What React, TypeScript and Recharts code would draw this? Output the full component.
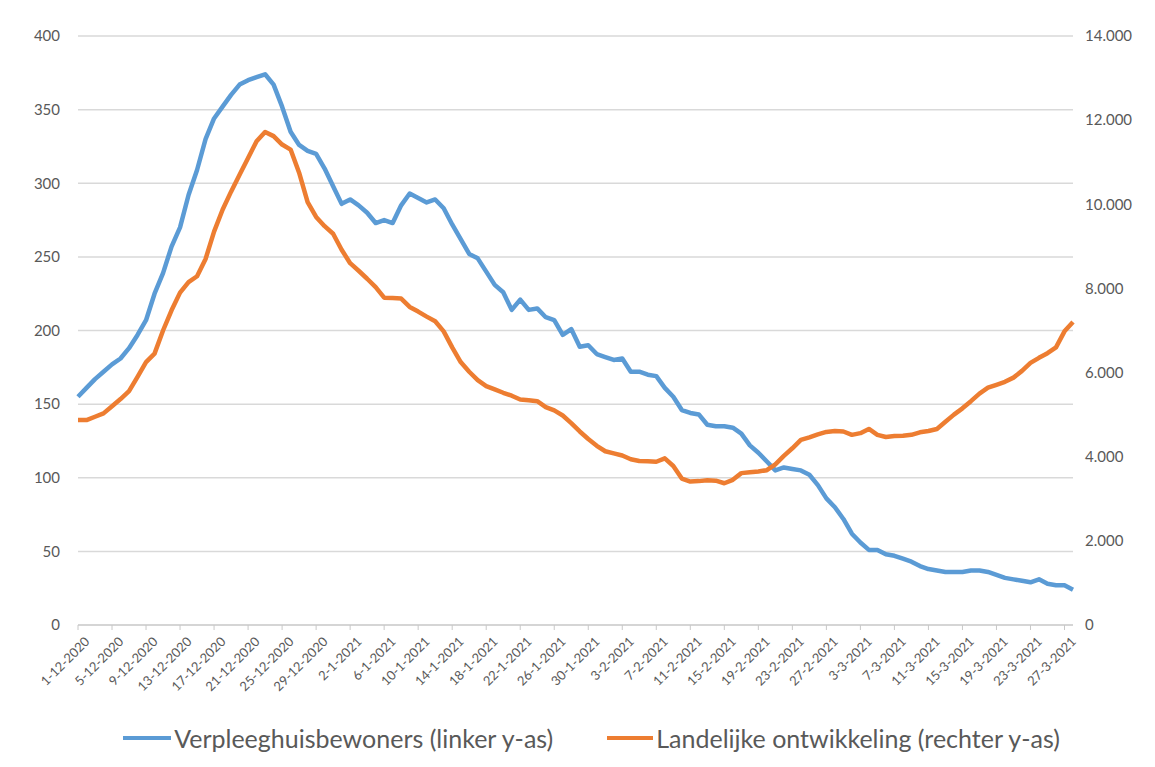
import React from "react";
import { LineChart, Line, XAxis, YAxis, CartesianGrid, Legend } from "recharts";

// dagelijkse reeks 1-12-2020 t/m 28-3-2021
const START_DATE = Date.UTC(2020, 11, 1);
const DAY_COUNT = 118;
const dates = Array.from({ length: DAY_COUNT }, (_, i) => {
  const d = new Date(START_DATE + i * 86400000);
  return `${d.getUTCDate()}-${d.getUTCMonth() + 1}-${d.getUTCFullYear()}`;
});

// Verpleeghuisbewoners (linker y-as)
const verpleeghuis = [
  155, 161, 167, 172, 177, 181, 188, 197, 207, 225,
  239, 257, 270, 292, 309, 330, 344, 352, 360, 367,
  370, 372, 374, 367, 352, 335, 326, 322, 320, 310,
  298, 286, 289, 285, 280, 273, 275, 273, 285, 293,
  290, 287, 289, 283, 272, 262, 252, 249, 240, 231,
  226, 214, 221, 214, 215, 209, 207, 197, 201, 189,
  190, 184, 182, 180, 181, 172, 172, 170, 169, 161,
  155, 146, 144, 143, 136, 135, 135, 134, 130, 122,
  117, 111, 105, 107, 106, 105, 102, 95, 86, 80,
  72, 62, 56, 51, 51, 48, 47, 45, 43, 40,
  38, 37, 36, 36, 36, 37, 37, 36, 34, 32,
  31, 30, 29, 31, 28, 27, 27, 24,
];

// Landelijke ontwikkeling (rechter y-as)
const landelijk = [
  4870, 4870, 4950, 5030, 5200, 5370, 5560, 5900, 6250, 6450,
  7000, 7480, 7900, 8150, 8290, 8700, 9350, 9870, 10300, 10700,
  11100, 11500, 11720, 11620, 11420, 11300, 10750, 10050, 9700, 9480,
  9300, 8920, 8600, 8420, 8230, 8030, 7780, 7770, 7760, 7560,
  7450, 7330, 7220, 6980, 6600, 6250, 6020, 5820, 5680, 5600,
  5520, 5450, 5360, 5340, 5320, 5180, 5100, 4980, 4800, 4600,
  4420, 4260, 4130, 4080, 4030, 3940, 3900, 3890, 3880, 3960,
  3780, 3480, 3410, 3420, 3440, 3430, 3370, 3450, 3610, 3630,
  3650, 3680, 3820, 4020, 4200, 4400, 4460, 4530, 4590, 4610,
  4600, 4520, 4560, 4660, 4520, 4470, 4490, 4500, 4520, 4580,
  4610, 4660, 4830, 5000, 5150, 5320, 5500, 5640, 5710, 5780,
  5880, 6040, 6230, 6350, 6460, 6600, 6980, 7200,
];

const leftTicks = [0, 50, 100, 150, 200, 250, 300, 350, 400];
const rightTicks = [0, 2000, 4000, 6000, 8000, 10000, 12000, 14000];

const BLUE = "#5B9BD5";
const ORANGE = "#ED7D31";
const TEXT = "#595959";
const FONT = "Lato, 'Liberation Sans', sans-serif";

const data = dates.map((date, i) => ({
  date,
  verpleeghuis: verpleeghuis[i],
  landelijk: landelijk[i],
}));

// 14000 -> "14.000"
const formatThousands = (v: number) =>
  v === 0 ? "0" : `${Math.floor(v / 1000)}.${String(v % 1000).padStart(3, "0")}`;

const DateTick = ({ x, y, payload }: any) => (
  <g transform={`translate(${x + 6},${y + 4})`}>
    <text
      x={0}
      y={0}
      dy="0.7em"
      transform="rotate(-45)"
      textAnchor="end"
      fill={TEXT}
      fontSize={13}
      fontFamily={FONT}
    >
      {payload.value}
    </text>
  </g>
);

const renderLegend = () => (
  <div
    style={{
      display: "flex",
      justifyContent: "center",
      alignItems: "center",
      gap: 54,
      height: 30,
      fontSize: 25,
      color: TEXT,
      fontFamily: FONT,
      paddingLeft: 42,
    }}
  >
    <div style={{ display: "flex", alignItems: "center" }}>
      <span style={{ width: 48, height: 4, background: BLUE, marginRight: 3 }} />
      Verpleeghuisbewoners (linker y-as)
    </div>
    <div style={{ display: "flex", alignItems: "center" }}>
      <span style={{ width: 46, height: 4, background: ORANGE, marginRight: 3 }} />
      Landelijke ontwikkeling (rechter y-as)
    </div>
  </div>
);

export default function App() {
  return (
    <div style={{ width: 1147, height: 759, background: "#fff", fontFamily: FONT }}>
      <LineChart
        width={1147}
        height={759}
        data={data}
        margin={{ top: 28, right: 22, bottom: 14, left: 0 }}
      >
        <CartesianGrid
          yAxisId="left"
          vertical={false}
          stroke="#d9d9d9"
          strokeWidth={1.5}
        />
        <XAxis
          dataKey="date"
          interval={3}
          height={98}
          tick={<DateTick />}
          tickSize={5}
          axisLine={{ stroke: "#d0d0d0", strokeWidth: 1.5 }}
          tickLine={{ stroke: "#c8c8c8" }}
        />
        <YAxis
          yAxisId="left"
          orientation="left"
          domain={[0, 400]}
          ticks={leftTicks}
          width={70}
          axisLine={false}
          tickLine={false}
          tickSize={0}
          tickMargin={18}
          tick={{ fill: TEXT, fontSize: 15, fontFamily: FONT }}
        />
        <YAxis
          yAxisId="right"
          orientation="right"
          domain={[0, 14000]}
          ticks={rightTicks}
          width={60}
          axisLine={false}
          tickLine={false}
          tickSize={0}
          tickMargin={12}
          tickFormatter={formatThousands}
          tick={{ fill: TEXT, fontSize: 15, fontFamily: FONT, textAnchor: "start" }}
        />
        <Legend verticalAlign="bottom" content={renderLegend} />
        <Line
          yAxisId="left"
          type="linear"
          dataKey="verpleeghuis"
          name="Verpleeghuisbewoners (linker y-as)"
          stroke={BLUE}
          strokeWidth={4.5}
          strokeLinejoin="round"
          dot={false}
          isAnimationActive={false}
        />
        <Line
          yAxisId="right"
          type="linear"
          dataKey="landelijk"
          name="Landelijke ontwikkeling (rechter y-as)"
          stroke={ORANGE}
          strokeWidth={4.5}
          strokeLinejoin="round"
          dot={false}
          isAnimationActive={false}
        />
      </LineChart>
    </div>
  );
}
